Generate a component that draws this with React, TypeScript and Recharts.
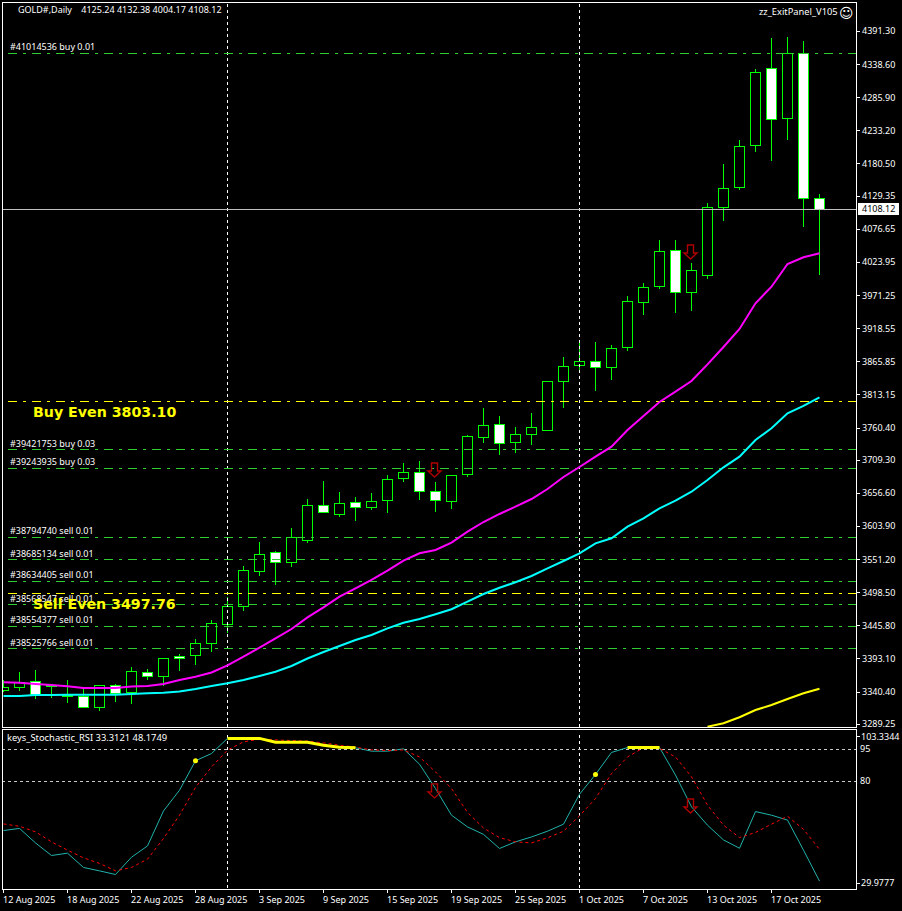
import {
  Bar,
  ComposedChart,
  Line,
  ReferenceLine,
  XAxis,
  YAxis,
} from "recharts";

const dates = [
  "12 Aug 2025", "13 Aug 2025", "14 Aug 2025", "15 Aug 2025", "18 Aug 2025", "19 Aug 2025", "20 Aug 2025",
  "21 Aug 2025", "22 Aug 2025", "25 Aug 2025", "26 Aug 2025", "27 Aug 2025", "28 Aug 2025", "29 Aug 2025",
  "1 Sep 2025", "2 Sep 2025", "3 Sep 2025", "4 Sep 2025", "5 Sep 2025", "8 Sep 2025", "9 Sep 2025",
  "10 Sep 2025", "11 Sep 2025", "12 Sep 2025", "15 Sep 2025", "16 Sep 2025", "17 Sep 2025", "18 Sep 2025",
  "19 Sep 2025", "22 Sep 2025", "23 Sep 2025", "24 Sep 2025", "25 Sep 2025", "26 Sep 2025", "29 Sep 2025",
  "30 Sep 2025", "1 Oct 2025", "2 Oct 2025", "3 Oct 2025", "6 Oct 2025", "7 Oct 2025", "8 Oct 2025",
  "9 Oct 2025", "10 Oct 2025", "13 Oct 2025", "14 Oct 2025", "15 Oct 2025", "16 Oct 2025", "17 Oct 2025",
  "20 Oct 2025", "21 Oct 2025", "22 Oct 2025",
];

const opens = [
  3342.7, 3348.1, 3357.6, 3350.2, 3333.1, 3333.8, 3315.6, 3351.3, 3339.5, 3371.9,
  3365.6, 3397.4, 3399.0, 3418.1, 3448.3, 3476.9, 3532.6, 3562.8, 3546.9, 3581.3,
  3637.6, 3622.6, 3642.4, 3633.8, 3644.9, 3679.9, 3690.1, 3659.9, 3643.3, 3686.3,
  3745.1, 3766.4, 3737.2, 3749.9, 3756.3, 3834.2, 3860.3, 3866.0, 3857.1, 3888.9,
  3960.5, 3985.3, 4043.2, 3976.4, 4002.8, 4111.6, 4142.8, 4210.2, 4332.7, 4253.2,
  4356.6, 4125.24,
];
const highs = [
  3359.7, 3372.4, 3375.6, 3353.3, 3359.7, 3347.5, 3351.7, 3353.3, 3380.4, 3377.2,
  3394.7, 3400.6, 3424.9, 3455.1, 3492.2, 3541.0, 3579.2, 3564.9, 3601.5, 3647.6,
  3676.2, 3658.8, 3650.8, 3657.2, 3685.8, 3704.9, 3708.1, 3674.7, 3685.3, 3749.4,
  3791.9, 3779.6, 3762.1, 3784.4, 3834.8, 3873.0, 3895.8, 3897.4, 3892.6, 3970.5,
  3991.2, 4059.6, 4059.6, 4023.0, 4118.5, 4180.5, 4218.7, 4331.1, 4380.9, 4382.5,
  4376.2, 4132.38,
];
const lows = [
  3340.6, 3341.7, 3329.5, 3331.5, 3323.6, 3315.6, 3310.4, 3325.2, 3322.0, 3359.7,
  3350.6, 3374.5, 3383.6, 3404.7, 3434.0, 3469.9, 3525.1, 3510.8, 3539.9, 3578.1,
  3625.8, 3619.5, 3612.6, 3630.1, 3625.8, 3674.7, 3646.0, 3626.9, 3631.7, 3682.6,
  3737.2, 3717.6, 3720.8, 3733.5, 3756.3, 3792.4, 3852.8, 3819.4, 3836.9, 3883.0,
  3940.3, 3981.7, 3943.5, 3946.7, 3997.6, 4090.3, 4139.1, 4199.6, 4185.3, 4218.7,
  4080.8, 4004.17,
];
const closes = [
  3348.1, 3355.4, 3337.0, 3351.7, 3334.7, 3315.6, 3350.2, 3337.9, 3373.5, 3364.9,
  3394.2, 3393.6, 3418.1, 3449.9, 3476.9, 3534.2, 3559.7, 3546.9, 3586.7, 3636.5,
  3625.8, 3640.8, 3633.8, 3644.0, 3679.0, 3690.1, 3659.2, 3644.9, 3685.3, 3747.4,
  3764.9, 3735.6, 3750.5, 3761.7, 3834.8, 3858.7, 3866.7, 3857.1, 3887.3, 3962.1,
  3984.4, 4041.6, 3976.4, 4011.4, 4111.6, 4141.8, 4208.7, 4326.4, 4251.6, 4356.6,
  4125.9, 4108.12,
];

const maFast = [
  3356.0, 3355.2, 3353.3, 3351.7, 3349.7, 3347.0, 3347.0, 3347.0, 3349.4, 3350.2,
  3353.3, 3359.7, 3364.9, 3371.6, 3382.8, 3396.8, 3411.1, 3426.0, 3440.8, 3459.4,
  3475.3, 3492.2, 3505.6, 3518.8, 3533.6, 3549.5, 3561.2, 3566.5, 3578.1, 3595.6,
  3611.0, 3623.8, 3635.4, 3647.6, 3663.5, 3682.6, 3698.5, 3714.9, 3730.8, 3757.4,
  3779.6, 3801.9, 3818.3, 3835.3, 3861.7, 3889.4, 3918.0, 3958.9, 3985.3, 4021.4,
  4032.1, 4038.4,
];
const maMid = [
  3334.2, 3334.2, 3335.8, 3335.8, 3336.2, 3336.2, 3336.2, 3336.2, 3337.4, 3338.5,
  3339.3, 3341.4, 3345.4, 3350.2, 3354.4, 3359.7, 3366.1, 3372.9, 3382.0, 3393.9,
  3404.2, 3413.8, 3423.3, 3431.3, 3441.9, 3450.8, 3456.7, 3464.2, 3472.2, 3484.3,
  3496.5, 3506.5, 3515.1, 3525.1, 3537.4, 3549.0, 3561.2, 3577.1, 3585.1, 3603.6,
  3616.9, 3632.8, 3644.9, 3659.2, 3677.8, 3698.0, 3714.9, 3741.5, 3760.1, 3783.9,
  3795.6, 3809.4,
];
// only the tail of the slow average is inside the window
const maSlow = [
  ...Array(44).fill(null),
  3285.4, 3290.8, 3300.4, 3312.0, 3319.9, 3329.5, 3338.5, 3345.9,
];

const stochMain = [
  57.0, 58.0, 51.2, 45.3, 46.4, 39.7, 38.1, 36.4, 44.5, 49.8,
  66.2, 75.9, 89.7, 93.1, 100.2, 100.2, 100.2, 98.4, 98.4, 98.4,
  97.0, 96.1, 95.8, 94.2, 94.2, 95.3, 88.1, 76.7, 64.2, 58.7,
  55.2, 48.6, 51.7, 54.0, 56.7, 60.0, 74.0, 83.3, 93.6, 95.9,
  95.9, 95.9, 83.0, 68.1, 59.5, 52.6, 48.7, 65.9, 64.2, 61.9,
  47.8, 33.3121,
];
const stochSignal = [
  60.1, 59.0, 56.4, 51.7, 47.8, 44.2, 41.6, 38.1, 39.7, 43.6,
  53.3, 64.2, 77.2, 86.8, 94.7, 98.6, 99.8, 99.5, 99.2, 98.9,
  98.1, 97.0, 96.1, 94.8, 94.5, 94.8, 91.5, 84.5, 76.7, 65.5,
  58.2, 53.7, 51.7, 51.2, 53.6, 56.7, 63.9, 72.0, 83.7, 91.5,
  95.8, 95.5, 91.5, 82.2, 68.9, 59.5, 53.7, 56.1, 60.0, 63.7,
  57.6, 48.1749,
];
const overboughtStart = [14, 39];
const overboughtEnd = [22, 41];
const crossDots = [12, 37];

const arrowsMain: Record<number, number> = { 27: 3682.6, 43: 4029.4 };
const arrowsStoch: Record<number, number> = { 27: 72.3, 43: 65.2 };

const priceTicks = [
  4391.3, 4338.6, 4285.9, 4233.2, 4180.5, 4129.35, 4076.65, 4023.95, 3971.25, 3918.55, 3865.85,
  3813.15, 3760.4, 3709.3, 3656.6, 3603.9, 3551.2, 3498.5, 3445.8, 3393.1, 3340.4, 3289.25,
];
const stochTicks = [103.3344, 95, 80, 29.9777];
const dateTicks = [0, 4, 8, 12, 16, 20, 24, 28, 32, 36, 40, 44, 48];
const periodBreaks = [14, 36];

const orderLabels = [
  "#41014536 buy 0.01", "#39421753 buy 0.03", "#39243935 buy 0.03", "#38794740 sell 0.01",
  "#38685134 sell 0.01", "#38634405 sell 0.01", "#38568547 sell 0.01", "#38554377 sell 0.01",
  "#38525766 sell 0.01",
];
const orderPrices = [4356.27, 3726.35, 3696.13, 3586.37, 3551.37, 3516.38, 3479.79, 3444.8, 3409.8];

const lastPrice = 4108.12;
const buyEven = 3803.1;
const sellEven = 3497.76;

const FONT = '"Noto Sans", sans-serif';
const FONT_SIZE = 9;
const GREEN = "#00ff00";
const X_DOMAIN = [-0.09375, 53.34375];
const PRICE_DOMAIN = [3284.93, 4436.6];
const STOCH_DOMAIN = [29.9777, 103.3344];

const priceData = dates.map((date, i) => ({
  i,
  date,
  open: opens[i],
  close: closes[i],
  range: [lows[i], highs[i]],
  maFast: maFast[i],
  maMid: maMid[i],
  maSlow: maSlow[i],
  arrow: arrowsMain[i] ?? null,
}));

const stochData = dates.map((date, i) => {
  const hot = overboughtStart.some((s, k) => i >= s && i <= overboughtEnd[k]);
  return {
    i,
    date,
    main: stochMain[i],
    signal: stochSignal[i],
    hot: hot ? stochMain[i] : null,
    cross: crossDots.includes(i) ? stochMain[i] : null,
    arrow: arrowsStoch[i] ?? null,
  };
});

function Candle(props: any) {
  const { x, y, width, height, payload } = props;
  const [low, high] = payload.range;
  const cx = Math.round(x + width / 2 - 0.5) + 0.5;
  const unit = height / (high - low);
  const yOf = (v: number) => y + (high - v) * unit;
  const top = Math.round(yOf(Math.max(payload.open, payload.close)) - 0.5) + 0.5;
  const bottom = Math.round(yOf(Math.min(payload.open, payload.close)) - 0.5) + 0.5;
  const bear = payload.close < payload.open;
  return (
    <g shapeRendering="crispEdges">
      <line x1={cx} x2={cx} y1={y} y2={y + height} stroke={GREEN} />
      <rect x={cx - 5} y={top} width={10} height={Math.max(bottom - top, 1)} fill={bear ? "#fff" : "#000"} stroke={GREEN} />
    </g>
  );
}

function Arrow(props: any) {
  const { cx, cy } = props;
  if (cy == null || cx == null) return <g key={props.key} />;
  const x = cx - 1;
  return (
    <path
      key={props.key}
      d={`M${x - 3} ${cy - 14}h6v8h3.5l-6.5 6l-6.5 -6h3.5z`}
      fill="none"
      stroke="#b00000"
      strokeWidth={1.4}
    />
  );
}

function CrossDot(props: any) {
  const { cx, cy } = props;
  if (cy == null || cx == null) return <g key={props.key} />;
  return <circle key={props.key} cx={cx} cy={cy} r={2.5} fill="#ffff00" />;
}

function OrderLabel({ viewBox, text }: any) {
  return (
    <text x={10} y={viewBox.y - 3} fill="#fff" fontFamily={FONT} fontSize={FONT_SIZE}>
      {text}
    </text>
  );
}

function EvenLabel({ viewBox, text }: any) {
  return (
    <text x={33} y={viewBox.y + 15.5} fill="#ffff00" fontFamily='"DejaVu Sans", sans-serif' fontWeight="bold" fontSize={14.2}>
      {text}
    </text>
  );
}

function LastPriceLabel({ viewBox }: any) {
  return (
    <g>
      <rect x={858} y={viewBox.y - 6.5} width={41} height={12} fill="#fff" />
      <text x={862} y={viewBox.y + 3} fill="#000" fontFamily={FONT} fontSize={FONT_SIZE}>
        {lastPrice.toFixed(2)}
      </text>
    </g>
  );
}

function PriceTick({ y, payload }: any) {
  return (
    <g>
      <line x1={857} x2={860} y1={y} y2={y} stroke="#fff" shapeRendering="crispEdges" />
      <text x={862} y={y + 3} fill="#fff" fontFamily={FONT} fontSize={FONT_SIZE}>
        {payload.value.toFixed(2)}
      </text>
    </g>
  );
}

function StochTick({ y, payload }: any) {
  const v = payload.value;
  const edge = v === 103.3344 ? 5 : v === 29.9777 ? -5 : 0;
  const label = edge === 0 ? String(v) : v.toFixed(4);
  return (
    <g>
      {edge !== 0 && <line x1={857} x2={860} y1={y + edge} y2={y + edge} stroke="#fff" shapeRendering="crispEdges" />}
      <text x={edge === 0 ? 860 : 861} y={y + edge + 3} fill="#fff" fontFamily={FONT} fontSize={FONT_SIZE}>
        {label}
      </text>
    </g>
  );
}

function DateTick({ x, payload }: any) {
  return (
    <g transform="translate(0 -729)">
      <line x1={x - 0.5} x2={x - 0.5} y1={890} y2={893} stroke="#fff" shapeRendering="crispEdges" />
      <text x={x - 0.5} y={903} fill="#fff" fontFamily={FONT} fontSize={FONT_SIZE}>
        {dates[payload.value]}
      </text>
    </g>
  );
}

function Frame({ top, height }: { top: number; height: number }) {
  return (
    <div
      style={{
        position: "absolute",
        left: 2,
        top,
        width: 853,
        height,
        border: "1px solid #fff",
        pointerEvents: "none",
      }}
    />
  );
}

function Caption({ left, top, size = FONT_SIZE, children }: { left: number; top: number; size?: number; children: any }) {
  return (
    <div
      style={{
        position: "absolute",
        left,
        top,
        color: "#fff",
        font: `${size}px ${FONT}`,
        lineHeight: "12px",
        whiteSpace: "pre",
      }}
    >
      {children}
    </div>
  );
}

export default function App() {
  return (
    <div style={{ position: "absolute", left: 0, top: 0, width: 902, height: 911, background: "#000", overflow: "hidden" }}>
      <div style={{ position: "absolute", left: 0, top: 0 }}>
        <ComposedChart
          width={902}
          height={730}
          data={priceData}
          margin={{ top: 3, right: 0, bottom: 3, left: 2 }}
        >
          <XAxis dataKey="i" type="number" domain={X_DOMAIN} allowDataOverflow hide ticks={dateTicks} />
          <YAxis
            orientation="right"
            width={45}
            type="number"
            domain={PRICE_DOMAIN}
            allowDataOverflow
            ticks={priceTicks}
            interval={0}
            axisLine={false}
            tickLine={false}
            tick={<PriceTick />}
          />
          {periodBreaks.map((i) => (
            <ReferenceLine key={i} x={i} stroke="#fff" strokeDasharray="3 3" shapeRendering="crispEdges" />
          ))}
          {orderPrices.map((p, k) => (
            <ReferenceLine
              key={orderLabels[k]}
              y={p}
              stroke="#32cd32"
              strokeDasharray="9 6 3 6"
              shapeRendering="crispEdges"
              label={<OrderLabel text={orderLabels[k]} />}
            />
          ))}
          <ReferenceLine y={buyEven} stroke="#ffff00" strokeDasharray="9 6 3 6" shapeRendering="crispEdges" label={<EvenLabel text={`Buy Even ${buyEven.toFixed(2)}`} />} />
          <ReferenceLine y={sellEven} stroke="#ffff00" strokeDasharray="9 6 3 6" shapeRendering="crispEdges" label={<EvenLabel text={`Sell Even ${sellEven.toFixed(2)}`} />} />
          <ReferenceLine y={lastPrice} stroke="#c0c0c0" shapeRendering="crispEdges" label={<LastPriceLabel />} />
          <Bar dataKey="range" barSize={10} shape={<Candle />} isAnimationActive={false} />
          <Line dataKey="maSlow" stroke="#ffff00" strokeWidth={2} dot={false} isAnimationActive={false} />
          <Line dataKey="maMid" stroke="#00ffff" strokeWidth={2} dot={false} isAnimationActive={false} />
          <Line dataKey="maFast" stroke="#ff00ff" strokeWidth={2} dot={false} isAnimationActive={false} />
          <Line dataKey="arrow" stroke="none" dot={<Arrow />} activeDot={false} isAnimationActive={false} />
        </ComposedChart>
      </div>
      <div style={{ position: "absolute", left: 0, top: 729 }}>
        <ComposedChart
          width={902}
          height={182}
          data={stochData}
          margin={{ top: 2.7, right: 0, bottom: 0, left: 2 }}
        >
          <XAxis
            dataKey="i"
            type="number"
            domain={X_DOMAIN}
            allowDataOverflow
            ticks={dateTicks}
            interval={0}
            height={22.8}
            axisLine={false}
            tickLine={false}
            tick={<DateTick />}
          />
          <YAxis
            orientation="right"
            width={45}
            type="number"
            domain={STOCH_DOMAIN}
            allowDataOverflow
            ticks={stochTicks}
            interval={0}
            axisLine={false}
            tickLine={false}
            tick={<StochTick />}
          />
          {periodBreaks.map((i) => (
            <ReferenceLine key={i} x={i} stroke="#fff" strokeDasharray="3 3" shapeRendering="crispEdges" />
          ))}
          <ReferenceLine y={95} stroke="#c8c8c8" strokeDasharray="3 3" shapeRendering="crispEdges" />
          <ReferenceLine y={80} stroke="#c8c8c8" strokeDasharray="3 3" shapeRendering="crispEdges" />
          <Line dataKey="main" stroke="#20b2aa" strokeWidth={1} dot={false} isAnimationActive={false} />
          <Line dataKey="signal" stroke="#ff0000" strokeWidth={1} strokeDasharray="3 3" dot={false} isAnimationActive={false} />
          <Line dataKey="hot" stroke="#ffff00" strokeWidth={3} dot={false} isAnimationActive={false} />
          <Line dataKey="cross" stroke="none" dot={<CrossDot />} activeDot={false} isAnimationActive={false} />
          <Line dataKey="arrow" stroke="none" dot={<Arrow />} activeDot={false} isAnimationActive={false} />
        </ComposedChart>
      </div>
      <Frame top={2} height={724} />
      <Frame top={729} height={159} />
      <Caption left={18} top={4}>{"GOLD#,Daily    4125.24 4132.38 4004.17 4108.12"}</Caption>
      <Caption left={7} top={732} size={9.35}>{"keys_Stochastic_RSI 33.3121 48.1749"}</Caption>
      <Caption left={759} top={6} size={9.3}>{"zz_ExitPanel_V105"}</Caption>
      <div style={{ position: "absolute", left: 839, top: 4, color: "#fff", font: '14px "DejaVu Sans"', lineHeight: "18px" }}>☺</div>
    </div>
  );
}
